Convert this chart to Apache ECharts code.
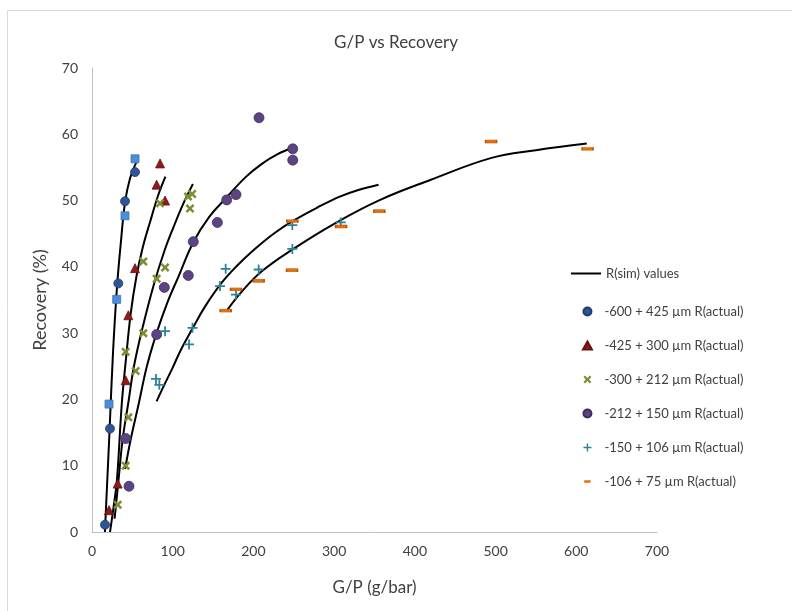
<!DOCTYPE html>
<html>
<head>
<meta charset="utf-8">
<script src="https://cdn.jsdelivr.net/npm/echarts@6/dist/echarts.min.js"></script>
<style>html,body{margin:0;padding:0;background:#fff}#c{width:792px;height:611px}</style>
</head>
<body>
<div id="c"></div>
<script>
// ---- data (G/P g/bar, Recovery %) ----
const xTicks = [0, 100, 200, 300, 400, 500, 600, 700];
const yTicks = [0, 10, 20, 30, 40, 50, 60, 70];

const legendNames = [
  'R(sim) values',
  '-600 + 425 µm R(actual)',
  '-425 + 300 µm R(actual)',
  '-300 + 212 µm R(actual)',
  '-212 + 150 µm R(actual)',
  '-150 + 106 µm R(actual)',
  '-106 + 75 µm R(actual)'
];

const act600 = [[16.1,1.1],[22.3,15.6],[32.6,37.5],[40.9,49.9],[53.3,54.3]];
const act600b = [[21.1,19.3],[30.6,35.1],[40.9,47.7],[53.3,56.3]];
const act425 = [[21.1,3.3],[31.8,7.3],[41.7,22.9],[45.0,32.7],[53.3,39.8],[80.1,52.4],[84.3,55.6],[90.5,50.0]];
const act300 = [[31.8,4.1],[41.7,10.0],[45.0,17.3],[41.7,27.2],[54.1,24.3],[63.6,30.0],[63.6,40.8],[80.1,38.2],[90.5,39.9],[84.3,49.6],[119.0,50.6],[124.0,51.0],[121.4,48.8]];
const act212 = [[45.8,6.9],[41.7,14.1],[80.1,29.8],[89.6,36.9],[119.3,38.7],[125.5,43.8],[155.3,46.7],[166.9,50.1],[178.4,50.9],[206.9,62.5],[248.7,57.8],[248.7,56.1]];
const act150 = [[79.3,23.1],[83.4,22.2],[90.5,30.3],[120.2,28.3],[124.5,30.8],[158.6,37.1],[165.6,39.7],[178.4,35.8],[206.5,39.6],[248.2,42.7],[248.2,46.3],[308.2,46.7]];
const act106 = [[165.6,33.4],[178.4,36.6],[206.5,37.9],[247.8,39.5],[248.2,46.9],[308.6,46.1],[356.0,48.4],[494.4,58.9],[614.0,57.8]];

const sim600 = [[16,0],[19,8],[22,16],[26,27],[31,37],[36,44],[41,49.8],[47,53.3],[55,55.8]];
const sim425 = [[22.3,0],[27,4],[31,8],[37,19.5],[42,26],[48,33],[55,38.5],[63,43],[72,46.8],[82,50.8],[91,53.6]];
const sim300 = [[28,2],[33,8],[38,14],[45,19.5],[52,25],[63,31],[77,37.5],[90,42.5],[101,46],[113,49.5],[125,52.5]];
const sim212 = [[41,9.5],[48,14],[57.6,19.2],[68,25],[80,30],[93,34.5],[107,38.5],[125.5,43.7],[145,47.5],[167,50.5],[190,53.5],[210,55.5],[230,57],[249,58]];
const sim150 = [[80,19.7],[90,22.3],[100,24.8],[109,27.2],[125,30.8],[140,34],[160,37.5],[180,40.2],[200,42.5],[225,45],[250,47],[280,49],[307,50.6],[330,51.6],[355,52.4]];
const sim106 = [[167,33.4],[185,36.2],[210,39.3],[248,42.6],[300,46.5],[357,50.1],[419,53.1],[494,56.4],[550,57.6],[613,58.6]];

const FONT = 'Lato, "Open Sans", sans-serif';
const xPath = 'path://M2,0 L5,3 L8,0 L10,2 L7,5 L10,8 L8,10 L5,7 L2,10 L0,8 L3,5 L0,2 Z';
const plusPath = 'path://M4.1,0 L5.9,0 L5.9,4.1 L10,4.1 L10,5.9 L5.9,5.9 L5.9,10 L4.1,10 L4.1,5.9 L0,5.9 L0,4.1 L4.1,4.1 Z';
const triPath = 'path://M5,0 L10,9 L0,9 Z';
const linePath = 'path://M0,0 L30,0 L30,2 L0,2 Z';
const dashIcon = 'path://M1,3.5 L9,3.5 L9,6.5 L1,6.5 Z M0,0 L0.01,0 L0,0.01 Z M10,10 L9.99,10 L10,9.99 Z';

function simLine(data) {
  return { name: legendNames[0], type: 'line', data: data, smooth: 0.4, symbol: 'none',
    lineStyle: { color: '#000', width: 2 }, itemStyle: { color: '#000' }, z: 2, silent: true };
}
function scat(name, data, symbol, size, color, border) {
  return { name: name, type: 'scatter', data: data, symbol: symbol, symbolSize: size,
    itemStyle: { color: color, borderColor: border, borderWidth: border ? 0.8 : 0, opacity: 1 }, z: 3 };
}

const legendText = { fontFamily: FONT, fontSize: 13, color: '#404040' };

const chart = echarts.init(document.getElementById('c'), null, { renderer: 'canvas' });
chart.setOption({
  animation: false,
  backgroundColor: '#fff',
  textStyle: { fontFamily: FONT },
  title: { text: 'G/P vs Recovery', left: 'center', top: 29,
    textStyle: { fontFamily: FONT, fontSize: 17, fontWeight: 'normal', color: '#404040' } },
  graphic: [{ type: 'rect', shape: { x: 7.5, y: 10.5, width: 800, height: 620 },
    style: { fill: 'none', stroke: '#d9d9d9', lineWidth: 1 }, silent: true }],
  grid: { left: 92, right: 135, top: 68, bottom: 79 },
  xAxis: {
    type: 'value', min: xTicks[0], max: xTicks[xTicks.length - 1], interval: 100,
    name: 'G/P (g/bar)', nameLocation: 'middle', nameGap: 47,
    nameTextStyle: { fontFamily: FONT, fontSize: 17, color: '#404040' },
    axisLine: { show: true, lineStyle: { color: '#bfbfbf', width: 1 } },
    axisTick: { show: false }, splitLine: { show: false },
    axisLabel: { fontFamily: FONT, fontSize: 14, color: '#404040', margin: 12 }
  },
  yAxis: {
    type: 'value', min: yTicks[0], max: yTicks[yTicks.length - 1], interval: 10,
    name: 'Recovery (%)', nameLocation: 'middle', nameGap: 43, nameRotate: 90,
    nameTextStyle: { fontFamily: FONT, fontSize: 18, color: '#404040' },
    axisLine: { show: true, lineStyle: { color: '#bfbfbf', width: 1 } },
    axisTick: { show: false }, splitLine: { show: false },
    axisLabel: { fontFamily: FONT, fontSize: 14, color: '#404040', margin: 14 }
  },
  legend: [
    { orient: 'vertical', left: 566, top: 262, itemWidth: 30, itemHeight: 10,
      data: [{ name: legendNames[0], icon: linePath }],
      textStyle: legendText },
    { orient: 'vertical', left: 577, top: 300, itemGap: 21, itemWidth: 14, itemHeight: 8,
      data: [
        { name: legendNames[1], icon: 'circle' },
        { name: legendNames[2], icon: triPath },
        { name: legendNames[3], icon: xPath },
        { name: legendNames[4], icon: 'circle' },
        { name: legendNames[5], icon: plusPath },
        { name: legendNames[6], icon: dashIcon, itemStyle: { borderWidth: 0 } }
      ],
      textStyle: Object.assign({ padding: [0, 0, 0, 5] }, legendText) }
  ],
  series: [
    simLine(sim600), simLine(sim425), simLine(sim300), simLine(sim212), simLine(sim150), simLine(sim106),
    scat('sq600', act600b, 'rect', 8, '#4A8FD8', '#3B73B0'),
    scat(legendNames[1], act600, 'circle', 9, '#2F5597', '#1F3C6E'),
    scat(legendNames[2], act425, 'triangle', 9, '#8E1A1A', '#6A1010'),
    scat(legendNames[3], act300, xPath, 9, '#7A8F32', null),
    scat(legendNames[4], act212, 'circle', 10, '#5C4483', '#3E2C5E'),
    scat(legendNames[5], act150, plusPath, 10, '#2E8496', null),
    scat(legendNames[6], act106, 'rect', [11, 3], '#E4700E', '#B85500')
  ]
});
</script>
</body>
</html>
